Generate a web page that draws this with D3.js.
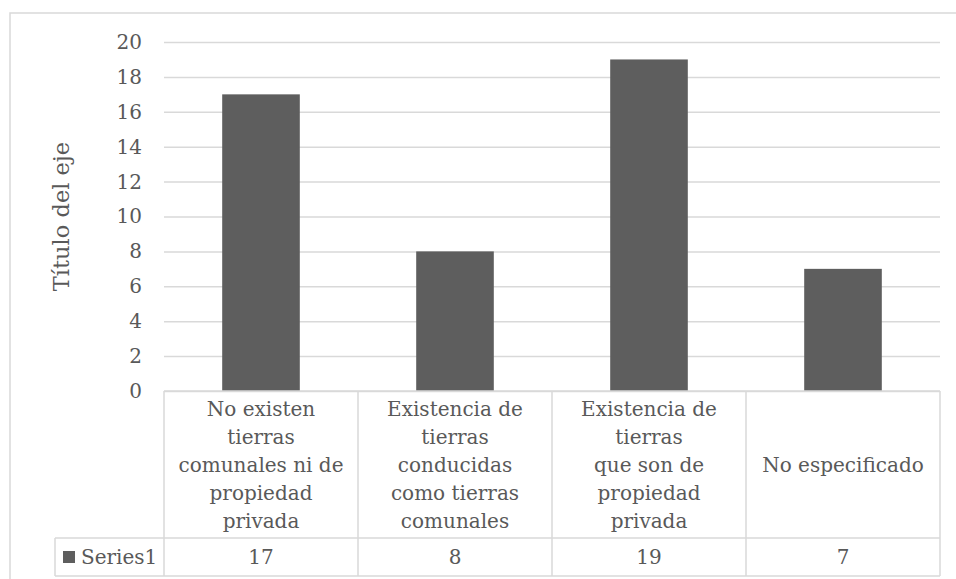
<!DOCTYPE html>
<html>
<head>
<meta charset="utf-8">
<script src="https://cdn.jsdelivr.net/npm/d3@7"></script>
<style>
  html, body { margin: 0; padding: 0; background: #fff; }
  svg { display: block; }
  text { font-family: "DejaVu Serif", serif; fill: #595959; }
</style>
</head>
<body>
<script>
// ---- data ----
const categories = [
  ["No existen", "tierras", "comunales ni de", "propiedad", "privada"],
  ["Existencia de", "tierras", "conducidas", "como tierras", "comunales"],
  ["Existencia de", "tierras", "que son de", "propiedad", "privada"],
  ["No especificado"]
];
const seriesName = "Series1";
const values = [17, 8, 19, 7];
const yTicks = [0, 2, 4, 6, 8, 10, 12, 14, 16, 18, 20];
const yTitle = "Título del eje";

// ---- layout ----
const W = 956, H = 579;
const plot = { left: 164, right: 940, top: 42, bottom: 391 };
const tableBottom = 576, rowLine = 538, legendLeft = 55;
const gridColor = "#d9d9d9", barColor = "#5e5e5e";
const fs = 20;

const svg = d3.select("body").append("svg").attr("width", W).attr("height", H);

// outer chart border
svg.append("rect").attr("x", 10).attr("y", 13).attr("width", 980).attr("height", 620)
  .attr("fill", "none").attr("stroke", gridColor).attr("stroke-width", 1.5);

const idx = categories.map((d, i) => i);
const x = d3.scaleBand().domain(idx).range([plot.left, plot.right]).paddingInner(0.6).paddingOuter(0.3);
const y = d3.scaleLinear().domain([0, 20]).range([plot.bottom, plot.top]);
const step = x.step();

// gridlines + y labels via axis
const yAxis = svg.append("g").attr("transform", `translate(${plot.left},0)`)
  .call(d3.axisLeft(y).tickValues(yTicks).tickSize(-(plot.right - plot.left)).tickPadding(22));
yAxis.select(".domain").remove();
yAxis.selectAll(".tick line").attr("stroke", gridColor).attr("stroke-width", 1.5);
yAxis.selectAll(".tick text").attr("font-size", fs).attr("fill", "#595959")
  .attr("font-family", "DejaVu Serif, serif");

// y title
svg.append("text")
  .attr("transform", `translate(69,${(plot.top + plot.bottom) / 2}) rotate(-90)`)
  .attr("text-anchor", "middle").attr("font-size", 22.5).text(yTitle);

// bars
svg.append("g").selectAll("rect").data(values).join("rect")
  .attr("x", (d, i) => x(i)).attr("width", x.bandwidth())
  .attr("y", d => y(d)).attr("height", d => y(0) - y(d))
  .attr("fill", barColor);

// data table lines
const tg = svg.append("g").attr("stroke", gridColor).attr("stroke-width", 1.5).attr("fill", "none");
tg.append("line").attr("x1", plot.left).attr("x2", plot.right).attr("y1", plot.bottom).attr("y2", plot.bottom);
tg.append("line").attr("x1", legendLeft).attr("x2", plot.right).attr("y1", rowLine).attr("y2", rowLine);
tg.append("line").attr("x1", legendLeft).attr("x2", plot.right).attr("y1", tableBottom).attr("y2", tableBottom);
tg.append("line").attr("x1", legendLeft).attr("x2", legendLeft).attr("y1", rowLine).attr("y2", tableBottom);
idx.concat([idx.length]).forEach(i => {
  const xx = plot.left + i * step;
  tg.append("line").attr("x1", xx).attr("x2", xx).attr("y1", plot.bottom).attr("y2", tableBottom);
});

// category labels
const lineH = 28;
const headMid = (plot.bottom + rowLine) / 2;
categories.forEach((lines, i) => {
  const cx = x(i) + x.bandwidth() / 2;
  const t = svg.append("text").attr("text-anchor", "middle").attr("font-size", fs);
  lines.forEach((ln, k) => {
    t.append("tspan").attr("x", cx)
      .attr("y", headMid + (k - (lines.length - 1) / 2) * lineH + 7)
      .text(ln);
  });
});

// values row
const rowMid = (rowLine + tableBottom) / 2;
values.forEach((v, i) => {
  svg.append("text").attr("x", x(i) + x.bandwidth() / 2).attr("y", rowMid + 7)
    .attr("text-anchor", "middle").attr("font-size", fs).text(v);
});

// legend key
svg.append("rect").attr("x", 63).attr("y", rowMid - 6).attr("width", 12).attr("height", 12).attr("fill", barColor);
svg.append("text").attr("x", 81).attr("y", rowMid + 7).attr("font-size", fs).text(seriesName);
</script>
</body>
</html>
